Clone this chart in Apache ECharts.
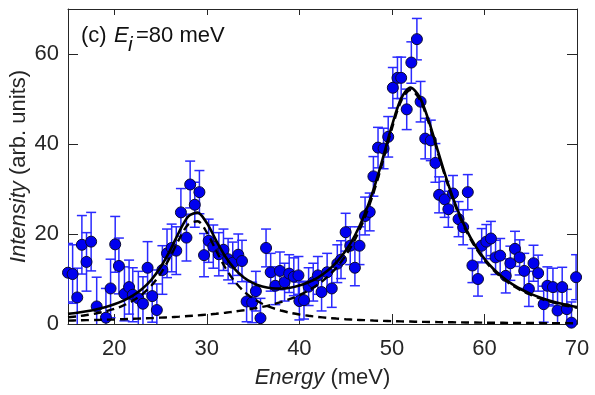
<!DOCTYPE html>
<html>
<head>
<meta charset="utf-8" />
<title>Ei=80 meV</title>
<script src="https://cdn.jsdelivr.net/npm/echarts@6/dist/echarts.min.js"></script>
<style>
body { margin: 0; background: #fff; }
#main { width: 595px; height: 395px; }
</style>
</head>
<body>
<div id="main"></div>
<script>
// measured points (meV, arb. units) and their error bars
var energy = [15.0, 15.5, 16.0, 16.5, 17.0, 17.5, 18.1, 19.1, 19.6, 20.1, 20.5, 21.1, 21.6, 22.0, 22.6, 23.1, 23.6, 24.1, 24.6,
  25.2, 25.7, 26.2, 26.7, 27.2, 27.8, 28.2, 28.7, 29.2, 29.7, 30.2, 30.7, 31.3, 31.8, 32.3, 32.8, 33.4, 33.8,
  34.3, 34.9, 35.3, 35.8, 36.4, 36.9, 37.4, 37.9, 38.4, 38.9, 39.4, 39.9, 40.0, 40.5, 41.0, 41.5, 42.0, 42.4,
  43.0, 43.5, 44.1, 44.5, 45.0, 45.5, 46.0, 46.5, 47.1, 47.6, 48.0, 48.5, 49.1, 49.6, 50.1, 50.6, 51.0, 51.6,
  52.1, 52.7, 53.1, 53.6, 54.2, 54.7, 55.1, 55.7, 56.1, 56.6, 57.2, 57.7, 58.2, 58.7, 59.3, 59.7, 60.2, 60.7,
  61.2, 61.7, 62.3, 62.8, 63.3, 63.8, 64.3, 64.8, 65.3, 65.8, 66.4, 66.8, 67.4, 67.9, 68.4, 68.9, 69.4, 69.9];
var intensity = [11.4, 11.1, 5.9, 17.6, 13.8, 18.3, 3.9, 1.4, 7.9, 17.7, 12.9, 6.7, 8.2, 6.5, 5.7, 4.5, 12.5, 6.2, 3.1,
  12.0, 15.7, 16.9, 16.3, 24.8, 19.2, 31.0, 26.5, 29.3, 15.3, 18.5, 17.2, 15.5, 16.5, 14.4, 13.6, 15.4, 14.0,
  5.0, 4.8, 7.3, 1.3, 16.9, 11.5, 8.5, 11.8, 9.3, 11.2, 10.5, 10.8, 5.1, 5.3, 8.3, 9.3, 10.8, 7.1,
  11.5, 7.9, 13.4, 14.3, 20.4, 17.4, 12.5, 17.4, 24.0, 24.9, 32.8, 39.2, 39.0, 41.6, 52.5, 54.7, 54.7, 47.7,
  58.1, 63.3, 49.4, 41.2, 40.8, 35.8, 28.7, 27.7, 25.5, 29.0, 23.3, 21.5, 29.3, 13.0, 10.0, 17.4, 18.3, 19.0,
  14.8, 15.2, 10.7, 13.5, 16.7, 14.8, 11.8, 7.8, 13.5, 11.3, 4.4, 8.5, 8.2, 3.0, 8.2, 3.3, 0.3, 10.4];
var errors = [6.5, 6.5, 6.5, 6.5, 6.5, 6.5, 6.5, 6.5, 6.5, 6.2, 6.2, 6.0, 6.0, 6.0, 6.0, 6.0, 5.8, 5.8, 5.8,
  5.4, 5.4, 5.3, 5.3, 5.3, 5.2, 5.2, 5.0, 4.8, 4.8, 4.8, 4.8, 4.8, 4.6, 4.6, 4.6, 4.6, 4.6,
  4.5, 4.5, 4.4, 4.4, 4.2, 4.2, 4.2, 4.2, 4.2, 4.2, 4.2, 4.2, 4.2, 4.2, 4.2, 4.2, 4.2, 4.2,
  4.2, 4.2, 4.2, 4.2, 4.2, 4.2, 4.0, 4.2, 4.2, 4.2, 4.4, 4.5, 4.5, 4.5, 4.5, 4.6, 4.6, 4.5,
  4.6, 4.6, 4.5, 4.5, 4.5, 4.3, 4.0, 4.0, 4.0, 4.0, 3.9, 3.9, 3.9, 3.8, 3.8, 3.8, 3.8, 3.8,
  3.8, 3.8, 3.8, 3.8, 3.9, 3.9, 3.9, 3.9, 4.0, 4.0, 4.0, 4.2, 4.2, 4.2, 4.4, 4.4, 4.6, 5.0];

// fitted curves, read every 1 meV
var fitE = [15, 16, 17, 18, 19, 20, 21, 22, 23, 24, 25, 26, 27, 28, 29, 30, 31, 32, 33, 34, 35, 36, 37, 38, 39, 40, 41, 42,
  43, 44, 45, 46, 47, 48, 49, 50, 51, 52, 53, 54, 55, 56, 57, 58, 59, 60, 61, 62, 63, 64, 65, 66, 67, 68, 69, 70];
var fitTotal = [2.25, 2.51, 2.84, 3.24, 3.73, 4.37, 5.20, 6.30, 7.78, 9.82, 12.60, 16.23, 20.44, 23.93, 24.76, 22.44,
  18.61, 15.01, 12.24, 10.32, 9.07, 8.31, 7.93, 7.87, 8.06, 8.53, 9.28, 10.33, 11.77, 13.71, 16.27, 19.67, 24.13,
  29.82, 36.70, 44.06, 50.13, 52.54, 50.41, 45.03, 38.24, 31.59, 25.85, 21.14, 17.42, 14.49, 12.17, 10.34, 8.86,
  7.67, 6.69, 5.88, 5.21, 4.65, 4.17, 3.76];
var fitPeak1 = [1.49, 1.71, 1.99, 2.34, 2.78, 3.36, 4.13, 5.15, 6.56, 8.51, 11.19, 14.72, 18.81, 22.16, 22.84, 20.35,
  16.33, 12.5, 9.48, 7.26, 5.66, 4.50, 3.64, 3.00, 2.50, 2.12, 1.82, 1.57, 1.37, 1.21, 1.07, 0.95, 0.86, 0.77, 0.70,
  0.64, 0.58, 0.54, 0.49, 0.46, 0.42, 0.39, 0.37, 0.34, 0.32, 0.30, 0.28, 0.27, 0.25, 0.24, 0.22, 0.21, 0.20, 0.19,
  0.18, 0.17];
var fitPeak2 = [0.76, 0.80, 0.85, 0.90, 0.95, 1.01, 1.07, 1.15, 1.22, 1.31, 1.41, 1.51, 1.63, 1.77, 1.92, 2.09, 2.28,
  2.51, 2.76, 3.06, 3.41, 3.81, 4.29, 4.87, 5.56, 6.41, 7.46, 8.76, 10.4, 12.5, 15.2, 18.72, 23.27, 29.05, 36.0,
  43.42, 49.55, 52.0, 49.92, 44.57, 37.82, 31.2, 25.48, 20.8, 17.1, 14.19, 11.89, 10.07, 8.61, 7.43, 6.47, 5.67,
  5.01, 4.46, 3.99, 3.59];

var xTicks = [20, 30, 40, 50, 60, 70];
var yTicks = [0, 20, 40, 60];

var font = 'Liberation Sans, Arial, sans-serif';
var axisColor = '#262626';

function pairs(xs, ys) {
  var out = [];
  for (var i = 0; i < xs.length; i++) out.push([xs[i], ys[i]]);
  return out;
}

var points = pairs(energy, intensity);
var bars = [];
for (var i = 0; i < energy.length; i++) {
  bars.push([energy[i], intensity[i] - errors[i], intensity[i] + errors[i]]);
}

function renderErrorBar(params, api) {
  var lo = api.coord([api.value(0), api.value(1)]);
  var hi = api.coord([api.value(0), api.value(2)]);
  var cap = 5;
  var style = { stroke: '#2a2aff', lineWidth: 1.5 };
  return {
    type: 'group',
    children: [
      { type: 'line', shape: { x1: lo[0], y1: lo[1], x2: hi[0], y2: hi[1] }, style: style },
      { type: 'line', shape: { x1: lo[0] - cap, y1: lo[1], x2: lo[0] + cap, y2: lo[1] }, style: style },
      { type: 'line', shape: { x1: hi[0] - cap, y1: hi[1], x2: hi[0] + cap, y2: hi[1] }, style: style }
    ]
  };
}

function axisBase(extra) {
  var a = {
    type: 'value',
    splitLine: { show: false },
    axisLine: { show: true, onZero: false, lineStyle: { color: axisColor, width: 1 } },
    axisTick: { show: true, inside: true, length: 10, lineStyle: { color: axisColor, width: 1 } },
    axisLabel: { show: false }
  };
  for (var k in extra) a[k] = extra[k];
  return a;
}

var myChart = echarts.init(document.getElementById('main'));

var option = {
  animation: false,
  backgroundColor: '#fff',
  grid: { left: 68, right: 18, top: 9, bottom: 71, containLabel: false, outerBoundsMode: 'none' },
  xAxis: [
    axisBase({
      min: 15, max: 70, position: 'bottom',
      axisTick: { show: true, inside: true, length: 10, customValues: xTicks, lineStyle: { color: axisColor } },
      axisLabel: { show: true, customValues: xTicks, fontSize: 22, color: axisColor, fontFamily: font, margin: 14 },
      name: '{i|Energy} (meV)',
      nameLocation: 'middle',
      nameGap: 43,
      nameMoveOverlap: false,
      nameTextStyle: { fontSize: 22, color: axisColor, fontFamily: font,
        rich: { i: { fontStyle: 'italic', fontSize: 22, color: axisColor, fontFamily: font } } }
    }),
    axisBase({
      min: 15, max: 70, position: 'top',
      axisTick: { show: true, inside: true, length: 6, customValues: xTicks, lineStyle: { color: axisColor } }
    })
  ],
  yAxis: [
    axisBase({
      min: 0, max: 70, position: 'left',
      axisTick: { show: true, inside: true, length: 10, customValues: yTicks, lineStyle: { color: axisColor } },
      axisLabel: { show: true, customValues: yTicks, fontSize: 22, color: axisColor, fontFamily: font, margin: 9 },
      name: '{i|Intensity} (arb. units)',
      nameLocation: 'middle',
      nameGap: 38,
      nameMoveOverlap: false,
      nameTextStyle: { fontSize: 22, color: axisColor, fontFamily: font,
        rich: { i: { fontStyle: 'italic', fontSize: 22, color: axisColor, fontFamily: font } } }
    }),
    axisBase({
      min: 0, max: 70, position: 'right',
      axisTick: { show: true, inside: true, length: 10, customValues: yTicks, lineStyle: { color: axisColor } }
    })
  ],
  graphic: [
    { type: 'text', left: 81, top: 25, style: { text: '(c)', fontSize: 22, fill: '#111', fontFamily: font } },
    { type: 'text', left: 114, top: 25, style: { text: 'E', fontSize: 22, fontStyle: 'italic', fill: '#111', fontFamily: font } },
    { type: 'text', left: 128, top: 35, style: { text: 'i', fontSize: 21, fontStyle: 'italic', fill: '#111', fontFamily: font } },
    { type: 'text', left: 136, top: 25, style: { text: '=80 meV', fontSize: 22, fill: '#111', fontFamily: font } }
  ],
  series: [
    {
      name: 'err',
      type: 'custom',
      renderItem: renderErrorBar,
      encode: { x: 0, y: [1, 2] },
      data: bars,
      clip: true,
      z: 2
    },
    {
      name: 'data',
      type: 'scatter',
      data: points,
      symbol: 'circle',
      symbolSize: 11,
      itemStyle: { color: '#0000f0', borderColor: '#0a0a30', borderWidth: 1, opacity: 1 },
      z: 3
    },
    {
      name: 'peak1',
      type: 'line',
      data: pairs(fitE, fitPeak1),
      smooth: 0.3,
      showSymbol: false,
      lineStyle: { color: '#000', width: 2.4, type: [8, 5] },
      z: 4
    },
    {
      name: 'peak2',
      type: 'line',
      data: pairs(fitE, fitPeak2),
      smooth: 0.3,
      showSymbol: false,
      lineStyle: { color: '#000', width: 2.4, type: [8, 5] },
      z: 4
    },
    {
      name: 'total',
      type: 'line',
      data: pairs(fitE, fitTotal),
      smooth: 0.3,
      showSymbol: false,
      lineStyle: { color: '#000', width: 2.6 },
      z: 5
    }
  ]
};

myChart.setOption(option);
</script>
</body>
</html>
